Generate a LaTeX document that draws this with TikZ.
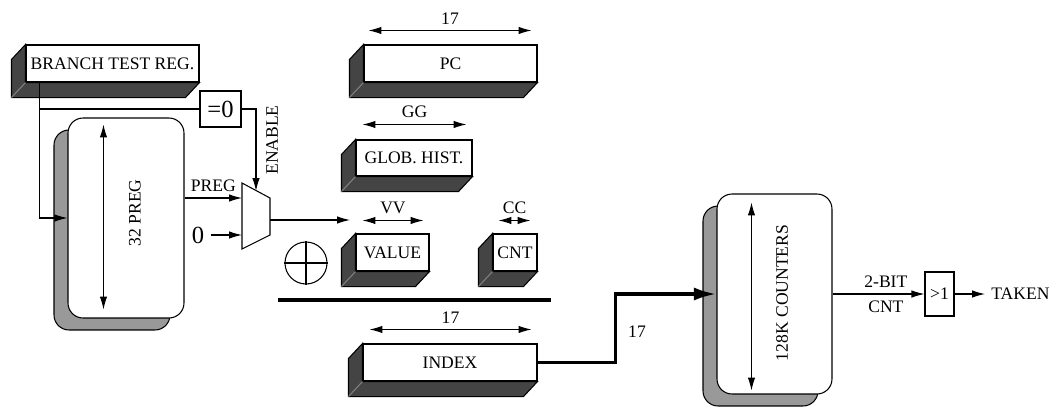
\documentclass[tikz,border=0pt]{standalone}
\usepackage{fontspec}
\setmainfont{Liberation Serif}
\usetikzlibrary{arrows.meta}

\definecolor{slabgray}{HTML}{444444}
\definecolor{shadegray}{HTML}{999999}

\tikzset{
  >={Latex[length=0.26cm,width=0.15cm]},
  reg/.style={draw,fill=white,inner sep=0pt,minimum height=0.74cm},
  slab/.style={draw,fill=slabgray},
  bank/.style={draw,fill=white,rounded corners=0.3cm,minimum width=2.32cm,minimum height=4cm,
    preaction={draw,fill=shadegray,transform canvas={shift={(-14,12)}}}},
  busline/.style={line width=0.07cm},
  bigtext/.style={font=\fontsize{14}{16}\selectfont},
}

% dark side and bottom face under a register
\newcommand{\regslab}[1]{%
  \draw[slab] (#1.north west) -- ([shift={(-14,15)}]#1.north west)
    -- ([shift={(-14,15)}]#1.south west) -- ([shift={(-14,15)}]#1.south east)
    -- (#1.south east) -- (#1.south west) -- cycle;
  \draw[gray] (#1.south west) -- ([shift={(-14,15)}]#1.south west);
}

\begin{document}
\begin{tikzpicture}[x=0.02cm,y=-0.02cm,line width=0.6pt]
\useasboundingbox (0,0) rectangle (1052,410);

% registers
\node[reg,minimum width=3.46cm] (branch) at (112.5,63.5) {BRANCH TEST REG.};
\regslab{branch}
\node[reg,minimum width=3.46cm] (pc) at (450.5,63.5) {PC};
\regslab{pc}
\node[reg,minimum width=2.32cm,minimum height=0.72cm] (glob) at (414,158) {GLOB. HIST.};
\regslab{glob}
\node[reg,minimum width=1.46cm] (value) at (392.5,252.5) {VALUE};
\regslab{value}
\node[reg,minimum width=0.88cm] (cnt) at (515,252.5) {CNT};
\regslab{cnt}
\node[reg,minimum width=3.48cm] (index) at (450,362.5) {INDEX};
\regslab{index}

% field widths
\draw[<->] ([shift={(5,-14)}]pc.north west) -- ([shift={(-6,-14)}]pc.north east) node[midway,above] (pcbits) {17};
\draw[<->] ([shift={(7,-15)}]glob.north west) -- ([shift={(-6,-15)}]glob.north east) node[midway,above] (globbits) {GG};
\draw[<->] ([shift={(7,-13)}]value.north west) -- ([shift={(-6,-13)}]value.north east) node[midway,above] (valbits) {VV};
\draw[<->] ([shift={(6,-13)}]cnt.north west) -- ([shift={(-7,-13)}]cnt.north east) node[midway,above] (cntbits) {CC};
\draw[<->] ([shift={(7,-14)}]index.north west) -- ([shift={(-6,-14)}]index.north east) node[midway,above] (idxwidth) {17};

% register file and counter table
\node[bank] (preg) at (126,218) {};
\draw[<->] ([shift={(36,7)}]preg.north west) -- ([shift={(36,-9)}]preg.south west);
\node[rotate=90] (preglabel) at (135,213) {32 PREG};

\node[bank,minimum width=2.3cm] (counters) at (774.5,294) {};
\draw[<->] ([shift={(35,9)}]counters.north west) -- ([shift={(35,-4)}]counters.south west);
\node[rotate=90] (ctrlabel) at (782,293) {128K COUNTERS};

% zero test and mux
\node[draw,inner sep=0pt,minimum width=0.82cm,minimum height=0.72cm,bigtext] (zero) at (220.5,109) {=0};
\node[rotate=90] (enable) at (272,140) {ENABLE};
\draw (242,183) -- (270,198) -- (270,235) -- (242,249) -- cycle;
\coordinate (muxa) at (242,198);
\coordinate (muxb) at (242,235);
\coordinate (muxs) at (256,191);
\coordinate (muxo) at (270,220);
\coordinate (keyin) at (350,220);
\node[bigtext] (zin) at (198,235) {0};

% xor and separator
\node[draw,circle,minimum size=0.84cm,inner sep=0pt] (mix) at (306,263) {};
\draw (mix.north) -- (mix.south) (mix.west) -- (mix.east);
\draw[busline] (278,300) -- (551,300);

% output test
\node[draw,inner sep=0pt,minimum width=0.58cm,minimum height=0.88cm] (gt) at (939.5,294) {>1};
\node[anchor=west] (taken) at (985,294) {TAKEN};

% wires
\coordinate (tap) at ([shift={(14,0)}]branch.south west);
\draw[->] (tap) |- (preg.west);
\draw (tap |- zero.west) -- (zero.west);
\draw[->] (zero.east) -| (muxs);
\draw[->] (preg.east |- muxa) -- node[above] (preglbl) {PREG} (muxa);
\draw[->] (zin) -- (muxb);
\draw[->] (muxo) -- (keyin);
\draw[busline,-{Latex[length=0.45cm,width=0.26cm]}] (index.east) -- ++(78,0) |- (counters.west);
\node (idxbits) at (637,332) {17};
\draw[->] (counters.east) -- node[pos=0.58,above] (cntwide) {2-BIT} node[pos=0.58,below] (cntname) {CNT} (gt.west);
\draw[->] (gt) -- (taken);
\end{tikzpicture}
\end{document}
